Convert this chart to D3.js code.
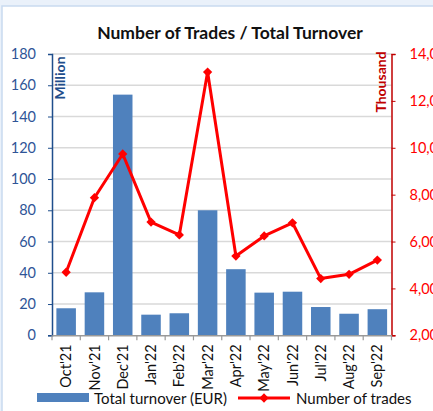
<!doctype html>
<html>
<head>
<script src="https://d3js.org/d3.v7.min.js"></script>
<style>
  body { margin: 0; background: #eaf1fa; }
  svg { display: block; }
  text { font-family: Lato, "Noto Sans", sans-serif; }
</style>
</head>
<body>
<svg width="433" height="411"></svg>
<script>
// data
var months = ["Oct'21", "Nov'21", "Dec'21", "Jan'22", "Feb'22", "Mar'22", "Apr'22", "May'22", "Jun'22", "Jul'22", "Aug'22", "Sep'22"];
var turnover = [17.3, 27.5, 154, 13.2, 14.1, 80, 42.3, 27.3, 27.9, 18.1, 13.8, 16.7];   // million EUR
var trades = [4690, 7870, 9735, 6830, 6280, 13230, 5380, 6240, 6800, 4420, 4600, 5210]; // count
var leftTicks = [0, 20, 40, 60, 80, 100, 120, 140, 160, 180];
var rightTicks = [2000, 4000, 6000, 8000, 10000, 12000, 14000];

var svg = d3.select("svg");
var pLeft = 52, pRight = 391.5, pTop = 54, pBottom = 335.3;

// chart frame
svg.append("rect").attr("x", 2).attr("y", 6).attr("width", 440).attr("height", 420)
    .attr("fill", "#fff").attr("stroke", "#c9daf0").attr("stroke-width", 1.5);

svg.append("text")
    .attr("x", 230).attr("y", 39)
    .attr("text-anchor", "middle")
    .attr("font-size", "17.5px").attr("font-weight", "bold").attr("fill", "#111")
    .text("Number of Trades / Total Turnover");

var x = d3.scaleBand().domain(months).range([pLeft, pRight]).paddingInner(0.31).paddingOuter(0.155);
var xCat = d3.scaleBand().domain(months).range([pLeft, pRight]);
var yL = d3.scaleLinear().domain([0, 180]).range([pBottom, pTop]);
var yR = d3.scaleLinear().domain([2000, 14000]).range([pBottom, pTop]);

// gridlines
svg.append("g").selectAll("line").data(leftTicks.slice(1)).enter().append("line")
    .attr("x1", pLeft).attr("x2", pRight)
    .attr("y1", function(d) { return yL(d); }).attr("y2", function(d) { return yL(d); })
    .attr("stroke", "#d9d9d9").attr("stroke-width", 1.5);

// bars
svg.append("g").selectAll("rect").data(turnover).enter().append("rect")
    .attr("x", function(d, i) { return x(months[i]); })
    .attr("y", function(d) { return yL(d); })
    .attr("width", x.bandwidth())
    .attr("height", function(d) { return pBottom - yL(d); })
    .attr("fill", "#4f81bd");

// left axis
var gl = svg.append("g").attr("transform", "translate(" + pLeft + ",0)")
    .call(d3.axisLeft(yL).tickValues(leftTicks).tickSize(4).tickPadding(12));
gl.select(".domain").attr("stroke", "#1f4e8c").attr("stroke-width", 1.5);
gl.selectAll(".tick line").attr("stroke", "#1f4e8c");
gl.selectAll(".tick text").attr("fill", "#2f5597").attr("font-size", "14.5px").attr("font-family", "Lato, sans-serif");

// right axis (labels run off the right edge, as in the original)
var gr = svg.append("g").attr("transform", "translate(" + pRight + ",0)")
    .call(d3.axisRight(yR).tickValues(rightTicks).tickSize(4).tickPadding(14)
        .tickFormat(function(d) { return d3.format(",.0f")(d); }));
gr.select(".domain").attr("stroke", "#c00000").attr("stroke-width", 1.5);
gr.selectAll(".tick line").attr("stroke", "#c00000");
gr.selectAll(".tick text").attr("fill", "#ff0000").attr("font-size", "14.5px").attr("font-family", "Lato, sans-serif");

// bottom axis
var gx = svg.append("g").attr("transform", "translate(0," + pBottom + ")")
    .call(d3.axisBottom(xCat).tickSize(0));
gx.select(".domain").attr("stroke", "#999").attr("stroke-width", 1.5);
gx.selectAll(".tick text")
    .attr("transform", "rotate(-90)")
    .attr("text-anchor", "end")
    .attr("x", -9).attr("y", 0).attr("dy", "0.35em")
    .attr("fill", "#111").attr("font-size", "14.5px").attr("font-family", "Lato, sans-serif");
svg.append("g").selectAll("line").data(months.concat([null])).enter().append("line")
    .attr("x1", function(d, i) { return pLeft + i * xCat.step(); })
    .attr("x2", function(d, i) { return pLeft + i * xCat.step(); })
    .attr("y1", pBottom).attr("y2", pBottom + 5)
    .attr("stroke", "#999").attr("stroke-width", 1.2);

// axis titles
svg.append("text")
    .attr("transform", "translate(65,78) rotate(-90)")
    .attr("text-anchor", "middle")
    .attr("font-size", "14px").attr("font-weight", "bold").attr("fill", "#1f4e8c")
    .text("Million");
svg.append("text")
    .attr("transform", "translate(386,82) rotate(-90)")
    .attr("text-anchor", "middle")
    .attr("font-size", "14px").attr("font-weight", "bold").attr("fill", "#c00000")
    .text("Thousand");

// trades line
var line = d3.line()
    .x(function(d, i) { return xCat(months[i]) + xCat.bandwidth() / 2; })
    .y(function(d) { return yR(d); });
svg.append("path").datum(trades)
    .attr("d", line).attr("fill", "none")
    .attr("stroke", "#ff0000").attr("stroke-width", 3).attr("stroke-linejoin", "round");
svg.append("g").selectAll("path").data(trades).enter().append("path")
    .attr("d", d3.symbol().type(d3.symbolDiamond2).size(55))
    .attr("transform", function(d, i) {
        return "translate(" + (xCat(months[i]) + xCat.bandwidth() / 2) + "," + yR(d) + ")";
    })
    .attr("fill", "#ff0000");

// legend
var lg = svg.append("g");
lg.append("rect").attr("x", 37).attr("y", 393).attr("width", 52).attr("height", 9).attr("fill", "#4f81bd");
lg.append("text").attr("x", 94).attr("y", 404).attr("font-size", "15px").attr("fill", "#111")
    .text("Total turnover (EUR)");
lg.append("line").attr("x1", 238).attr("x2", 290).attr("y1", 398).attr("y2", 398)
    .attr("stroke", "#ff0000").attr("stroke-width", 3);
lg.append("path").attr("d", d3.symbol().type(d3.symbolDiamond2).size(55))
    .attr("transform", "translate(264,398)").attr("fill", "#ff0000");
lg.append("text").attr("x", 296).attr("y", 404).attr("font-size", "15px").attr("fill", "#111")
    .text("Number of trades");
</script>
</body>
</html>
